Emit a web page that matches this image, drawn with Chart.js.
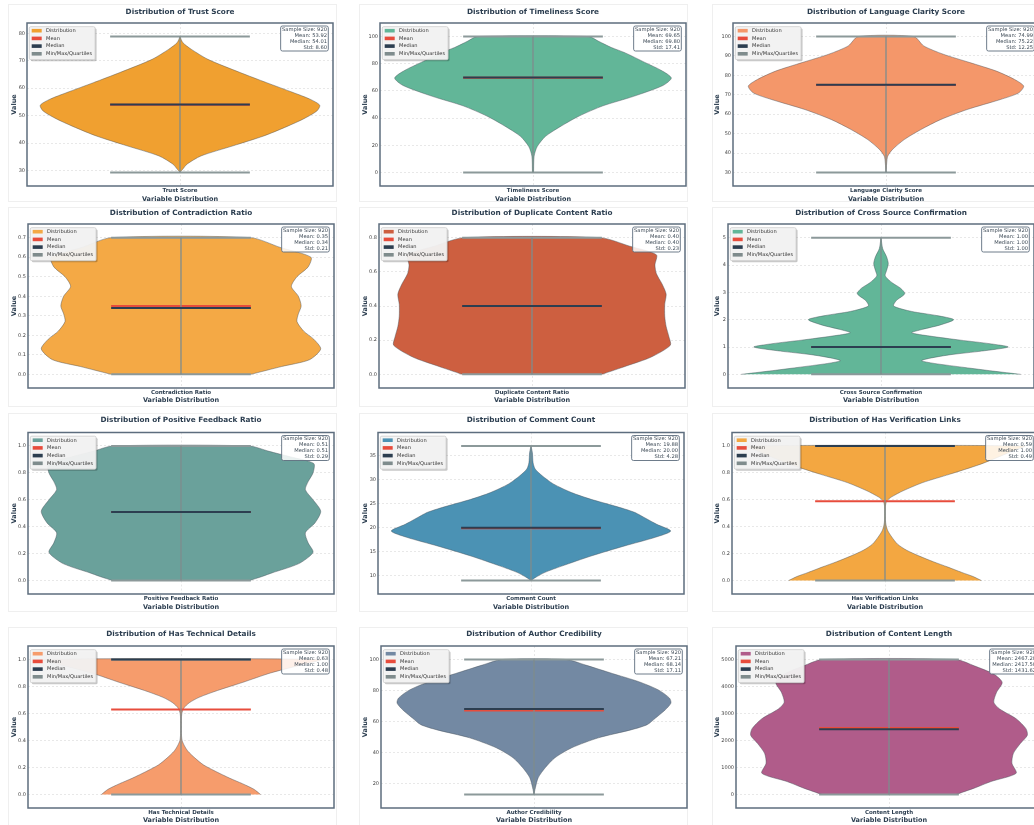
<!DOCTYPE html>
<html>
<head>
<meta charset="utf-8">
<title>Variable Distributions</title>
<script src="https://cdn.jsdelivr.net/npm/chart.js@4.4.1/dist/chart.umd.min.js"></script>
<style>
  html, body { margin: 0; padding: 0; background: #fff; overflow: hidden; }
  body { width: 1034px; height: 825px; position: relative; }
  .panel { position: absolute; border: 1px solid #efefef; box-sizing: border-box; }
  canvas { position: absolute; }
</style>
</head>
<body>
<script>
// ---- values ----
const variables = ['Trust Score', 'Timeliness Score', 'Language Clarity Score',
  'Contradiction Ratio', 'Duplicate Content Ratio', 'Cross Source Confirmation',
  'Positive Feedback Ratio', 'Comment Count', 'Has Verification Links',
  'Has Technical Details', 'Author Credibility', 'Content Length'];
const sampleSizes = [920, 920, 920, 920, 920, 920, 920, 920, 920, 920, 920, 920];
const means = [53.92, 69.65, 74.99, 0.35, 0.40, 1.00, 0.51, 19.88, 0.59, 0.63, 67.21, 2467.20];
const medians = [54.01, 69.80, 75.22, 0.34, 0.40, 1.00, 0.51, 20.00, 1.00, 1.00, 68.14, 2417.50];
const stds = [8.60, 17.41, 12.25, 0.21, 0.23, 1.00, 0.29, 4.28, 0.49, 0.48, 17.11, 1431.62];
const minValues = [29.3, 0, 30, 0, 0, 0, 0, 9, 0, 0, 13, 10];
const maxValues = [78.8, 100, 100, 0.7, 0.8, 5, 1, 37, 1, 1, 100, 4990];

// y tick labels per panel
const trustTicks = [30, 40, 50, 60, 70, 80];
const timelinessTicks = [0, 20, 40, 60, 80, 100];
const clarityTicks = [30, 40, 50, 60, 70, 80, 90, 100];
const contradictionTicks = [0, 0.1, 0.2, 0.3, 0.4, 0.5, 0.6, 0.7];
const duplicateTicks = [0, 0.2, 0.4, 0.6, 0.8];
const crossTicks = [0, 1, 2, 3, 4, 5];
const feedbackTicks = [0, 0.2, 0.4, 0.6, 0.8, 1.0];
const commentTicks = [10, 15, 20, 25, 30, 35];
const verificationTicks = [0, 0.2, 0.4, 0.6, 0.8, 1.0];
const technicalTicks = [0, 0.2, 0.4, 0.6, 0.8, 1.0];
const credibilityTicks = [20, 40, 60, 80, 100];
const lengthTicks = [0, 1000, 2000, 3000, 4000, 5000];
const tickDecimals = [0, 0, 0, 1, 1, 0, 1, 0, 1, 1, 0, 0];

// violin outlines: value levels and half widths (1 = widest point)
const trustLevels = [29.3, 30.5, 32.3, 35.3, 39, 42.6, 45.7, 48.7, 51.7, 53.8, 56, 58.4, 62, 65.7, 70.5, 74.2, 76.6, 78.8];
const trustWidths = [0, 0.02, 0.05, 0.15, 0.38, 0.6, 0.75, 0.88, 0.98, 1.0, 0.93, 0.81, 0.62, 0.43, 0.2, 0.08, 0.02, 0];
const timelinessLevels = [0, 12, 19, 26.6, 34, 41.5, 49, 56, 64, 69.5, 75, 81, 88, 92, 96.5, 100];
const timelinessWidths = [0.004, 0.008, 0.03, 0.09, 0.2, 0.33, 0.5, 0.72, 0.93, 0.99, 0.92, 0.8, 0.66, 0.56, 0.47, 0.40];
const clarityLevels = [30, 34.8, 38.3, 41.7, 46.9, 52.1, 57.2, 62.4, 67.6, 71, 74.5, 77.9, 82.2, 86.6, 90.9, 95.2, 100];
const clarityWidths = [0, 0.005, 0.012, 0.045, 0.13, 0.25, 0.39, 0.58, 0.82, 0.95, 0.985, 0.92, 0.79, 0.6, 0.41, 0.27, 0.2];
const contradictionLevels = [0, 0.04, 0.075, 0.13, 0.18, 0.22, 0.27, 0.31, 0.35, 0.4, 0.45, 0.5, 0.55, 0.6, 0.65, 0.7];
const contradictionWidths = [0.5, 0.72, 0.92, 1.0, 0.95, 0.88, 0.83, 0.84, 0.86, 0.84, 0.79, 0.83, 0.91, 0.93, 0.71, 0.5];
const duplicateLevels = [0, 0.05, 0.1, 0.17, 0.22, 0.28, 0.34, 0.41, 0.47, 0.53, 0.59, 0.64, 0.7, 0.75, 0.8];
const duplicateWidths = [0.5, 0.68, 0.85, 0.99, 0.98, 0.96, 0.95, 0.95, 0.96, 0.93, 0.89, 0.88, 0.89, 0.7, 0.49];
const crossLevels = [0, 0.12, 0.25, 0.4, 0.5, 0.6, 0.72, 0.85, 1.0, 1.12, 1.25, 1.4, 1.52, 1.65, 1.8, 2.0, 2.15, 2.3, 2.5, 2.7, 2.95, 3.15, 3.35, 3.6, 3.8, 4.05, 4.3, 4.6, 5.0];
const crossWidths = [1.0, 0.8, 0.6, 0.38, 0.29, 0.36, 0.5, 0.72, 0.91, 0.78, 0.57, 0.35, 0.22, 0.3, 0.42, 0.52, 0.4, 0.22, 0.09, 0.11, 0.17, 0.14, 0.08, 0.03, 0.04, 0.052, 0.04, 0.012, 0];
const feedbackLevels = [0, 0.03, 0.06, 0.1, 0.135, 0.21, 0.28, 0.355, 0.43, 0.515, 0.6, 0.675, 0.735, 0.8, 0.87, 0.92, 0.96, 1.0];
const feedbackWidths = [0.49, 0.58, 0.66, 0.78, 0.86, 0.945, 0.91, 0.89, 0.96, 1.0, 0.945, 0.89, 0.91, 0.945, 0.95, 0.78, 0.63, 0.49];
const commentLevels = [9, 9.6, 10.7, 12, 14.1, 16.2, 18, 19.3, 20.7, 21.8, 23.2, 24.5, 25.9, 27.3, 29.1, 30.8, 32.2, 33.5, 35.6, 37];
const commentWidths = [0, 0.03, 0.1, 0.22, 0.43, 0.67, 0.89, 1.0, 0.9, 0.83, 0.74, 0.6, 0.43, 0.29, 0.16, 0.08, 0.03, 0.015, 0.01, 0];
const verificationLevels = [0, 0.03, 0.06, 0.1, 0.14, 0.18, 0.225, 0.27, 0.324, 0.37, 0.41, 0.45, 0.55, 0.59, 0.62, 0.667, 0.728, 0.789, 0.863, 0.93, 0.97, 1.0];
const verificationWidths = [0.69, 0.63, 0.55, 0.45, 0.345, 0.25, 0.155, 0.09, 0.048, 0.02, 0.008, 0.003, 0.003, 0.012, 0.045, 0.13, 0.27, 0.46, 0.68, 0.84, 0.93, 1.0];
const technicalLevels = [0, 0.04, 0.08, 0.12, 0.17, 0.22, 0.27, 0.32, 0.36, 0.4, 0.45, 0.55, 0.6, 0.64, 0.68, 0.72, 0.77, 0.83, 0.9, 0.96, 1.0];
const technicalWidths = [0.57, 0.52, 0.44, 0.35, 0.25, 0.16, 0.1, 0.05, 0.025, 0.008, 0.003, 0.003, 0.006, 0.02, 0.06, 0.13, 0.26, 0.44, 0.64, 0.86, 1.0];
const credibilityLevels = [13, 17.4, 23.8, 30.2, 36.7, 43.1, 49.5, 54.8, 58, 62.3, 67.6, 71.9, 75.1, 80.4, 85.7, 91, 96.4, 100];
const credibilityWidths = [0, 0.01, 0.03, 0.08, 0.15, 0.27, 0.46, 0.7, 0.81, 0.87, 0.94, 0.98, 0.97, 0.89, 0.75, 0.56, 0.37, 0.23];
const lengthLevels = [10, 244, 488, 793, 1159, 1524, 1890, 2195, 2439, 2805, 3171, 3415, 3780, 4146, 4451, 4756, 4990];
const lengthWidths = [0.48, 0.61, 0.73, 0.91, 0.88, 0.89, 0.94, 0.99, 0.98, 0.91, 0.79, 0.75, 0.77, 0.81, 0.75, 0.61, 0.48];

const violinColors = ['#F0A030', '#62B698', '#F4976A', '#F4A945', '#CD5F40', '#62B698',
  '#6AA19B', '#4B92B4', '#F3A741', '#F69C6C', '#7389A3', '#B05C8A'];

(function () {
  const allLevels = [trustLevels, timelinessLevels, clarityLevels, contradictionLevels, duplicateLevels, crossLevels,
    feedbackLevels, commentLevels, verificationLevels, technicalLevels, credibilityLevels, lengthLevels];
  const allWidths = [trustWidths, timelinessWidths, clarityWidths, contradictionWidths, duplicateWidths, crossWidths,
    feedbackWidths, commentWidths, verificationWidths, technicalWidths, credibilityWidths, lengthWidths];
  const allTicks = [trustTicks, timelinessTicks, clarityTicks, contradictionTicks, duplicateTicks, crossTicks,
    feedbackTicks, commentTicks, verificationTicks, technicalTicks, credibilityTicks, lengthTicks];

  const FONT = 'DejaVu Sans';
  const meanColor = '#e74c3c';
  const medianColor = '#2c3e50';
  const extremaColor = '#7f8c8d';
  const legendLabels = ['Distribution', 'Mean', 'Median', 'Min/Max/Quartiles'];
  const xHalf = 1.095;    // x range, in violin half widths
  const lineHalf = 0.5;   // half length of mean / median / extrema lines

  // page layout (pixels)
  const rows = [
    { y: 0, h: 205, top: 23, bottom: 186, titleY: 12, tickY: 191, labelY: 199 },
    { y: 205, h: 205, top: 224, bottom: 388, titleY: 212.7, tickY: 392.3, labelY: 400 },
    { y: 410, h: 205, top: 432.5, bottom: 594, titleY: 420.5, tickY: 599, labelY: 607.3 },
    { y: 615, h: 210, top: 646, bottom: 808, titleY: 634, tickY: 813, labelY: 820.7 }
  ];
  const cols = [
    { x: 0, w: 345, valueX: 14 },
    { x: 345, w: 345, valueX: 365 },
    { x: 690, w: 360, valueX: 717.5 }
  ];
  const plotLefts = [27, 380, 733, 28, 379, 728, 28, 378, 732, 28, 381, 736];
  const plotWidth = 306;
  const panelXs = [[8, 337], [359, 688], [712, 1040]];
  const panelYs = [[4, 202], [207, 407], [413, 612], [627, 830]];

  const TITLE_SIZE = 7.3, AXIS_TITLE_SIZE = 6.5, CAT_SIZE = 5.5, TICK_SIZE = 5, LEGEND_SIZE = 5.1, STATS_SIZE = 5.2;

  // faint frames round each panel
  panelYs.forEach(function (py) {
    panelXs.forEach(function (px) {
      const d = document.createElement('div');
      d.className = 'panel';
      d.style.left = px[0] + 'px';
      d.style.top = py[0] + 'px';
      d.style.width = (px[1] - px[0]) + 'px';
      d.style.height = (py[1] - py[0]) + 'px';
      document.body.appendChild(d);
    });
  });

  function roundRect(ctx, x, y, w, h, r) {
    ctx.beginPath();
    ctx.moveTo(x + r, y);
    ctx.lineTo(x + w - r, y);
    ctx.arcTo(x + w, y, x + w, y + r, r);
    ctx.lineTo(x + w, y + h - r);
    ctx.arcTo(x + w, y + h, x + w - r, y + h, r);
    ctx.lineTo(x + r, y + h);
    ctx.arcTo(x, y + h, x, y + h - r, r);
    ctx.lineTo(x, y + r);
    ctx.arcTo(x, y, x + r, y, r);
    ctx.closePath();
  }

  function hLine(v, color, width) {
    return {
      data: [{ x: -lineHalf, y: v }, { x: lineHalf, y: v }],
      borderColor: color, borderWidth: width, pointRadius: 0, fill: false, tension: 0
    };
  }

  function drawPanel(i) {
    const row = rows[Math.floor(i / 3)];
    const col = cols[i % 3];
    const left = plotLefts[i];
    const right = left + plotWidth;
    const span = maxValues[i] - minValues[i];
    const yMin = minValues[i] - 0.1 * span;
    const yMax = maxValues[i] + 0.1 * span;
    const name = variables[i];

    const canvas = document.createElement('canvas');
    canvas.width = col.w;
    canvas.height = row.h;
    canvas.style.left = col.x + 'px';
    canvas.style.top = row.y + 'px';
    canvas.style.width = col.w + 'px';
    canvas.style.height = row.h + 'px';
    document.body.appendChild(canvas);

    const titleLh = TITLE_SIZE * 1.2;
    const titlePadTop = row.titleY - row.y - titleLh / 2;
    const titlePadBottom = row.top - row.y - titlePadTop - titleLh;
    const catPad = row.tickY - row.bottom - CAT_SIZE * 1.2 / 2;
    const xTitlePad = row.y + row.h - row.labelY - AXIS_TITLE_SIZE * 1.2 / 2;
    const yTitlePad = col.valueX - col.x - AXIS_TITLE_SIZE * 1.2 / 2;

    // violin outline: right side going up, left side coming down
    const lv = allLevels[i], wd = allWidths[i];
    const outline = [];
    for (let k = 0; k < lv.length; k++) outline.push({ x: wd[k], y: lv[k] });
    for (let k = lv.length - 1; k >= 0; k--) outline.push({ x: -wd[k], y: lv[k] });

    const datasets = [
      hLine(medians[i], medianColor, 2),
      {
        data: [{ x: 0, y: minValues[i] }, { x: 0, y: maxValues[i] }],
        borderColor: extremaColor, borderWidth: 1.3, pointRadius: 0, fill: false, tension: 0
      },
      hLine(minValues[i], '#8c999a', 2),
      hLine(maxValues[i], '#8c999a', 2),
      hLine(means[i], meanColor, 2),
      {
        data: outline,
        backgroundColor: violinColors[i],
        borderColor: 'rgba(70,78,88,0.55)',
        borderWidth: 0.8,
        pointRadius: 0,
        fill: 'shape',
        tension: 0.25
      }
    ];

    const statLines = ['Sample Size: ' + sampleSizes[i], 'Mean: ' + means[i].toFixed(2),
      'Median: ' + medians[i].toFixed(2), 'Std: ' + stds[i].toFixed(2)];

    const decor = {
      id: 'decor',
      afterDatasetsDraw: function (chart) {
        const ctx = chart.ctx, a = chart.chartArea;
        ctx.save();
        // axes frame
        ctx.strokeStyle = '#5d6d7e';
        ctx.lineWidth = 1.5;
        ctx.strokeRect(a.left, a.top, a.right - a.left, a.bottom - a.top);

        // legend, upper left
        ctx.font = LEGEND_SIZE + 'px "' + FONT + '"';
        const textX = a.left + 19;
        let tw = 0;
        legendLabels.forEach(function (t) { tw = Math.max(tw, ctx.measureText(t).width); });
        const lx = a.left + 2.3, ly = a.top + 3.7, lw = textX + tw + 3 - lx, lh = 33;
        ctx.fillStyle = 'rgba(0,0,0,0.22)';
        roundRect(ctx, lx + 1.5, ly + 1.5, lw, lh, 1.5);
        ctx.fill();
        ctx.fillStyle = 'rgba(244,244,244,0.95)';
        roundRect(ctx, lx, ly, lw, lh, 1.5);
        ctx.fill();
        ctx.strokeStyle = '#cccccc';
        ctx.lineWidth = 0.8;
        ctx.stroke();
        const swatches = [violinColors[i], meanColor, medianColor, extremaColor];
        ctx.textBaseline = 'middle';
        ctx.textAlign = 'left';
        legendLabels.forEach(function (t, j) {
          const y = a.top + 7.7 + 7.7 * j;
          ctx.fillStyle = swatches[j];
          ctx.fillRect(a.left + 4.7, y - 1.8, 10, 3.6);
          ctx.fillStyle = '#333333';
          ctx.fillText(t, textX, y);
        });

        // summary box, upper right
        ctx.font = STATS_SIZE + 'px "' + FONT + '"';
        let sw = 0;
        statLines.forEach(function (t) { sw = Math.max(sw, ctx.measureText(t).width); });
        const bw = sw + 2.6, bh = 25, bx = a.right - 4.7 - bw, by = a.top + 3;
        ctx.fillStyle = 'rgba(255,255,255,0.85)';
        roundRect(ctx, bx, by, bw, bh, 1.8);
        ctx.fill();
        ctx.strokeStyle = '#5d6d7e';
        ctx.lineWidth = 0.9;
        ctx.stroke();
        ctx.fillStyle = '#3d4a56';
        ctx.textAlign = 'right';
        statLines.forEach(function (t, j) {
          ctx.fillText(t, bx + bw - 1.3, by + 3.6 + 5.9 * j);
        });
        ctx.restore();
      }
    };

    new Chart(canvas, {
      type: 'line',
      data: { datasets: datasets },
      options: {
        responsive: false,
        animation: false,
        devicePixelRatio: 1,
        layout: { padding: { left: 0, top: 0, bottom: 0, right: col.x + col.w - right } },
        plugins: {
          legend: { display: false },
          tooltip: { enabled: false },
          title: {
            display: true,
            text: 'Distribution of ' + name,
            fullSize: false,
            color: '#2c3e50',
            font: { family: FONT, size: TITLE_SIZE, weight: 'bold', lineHeight: 1.2 },
            padding: { top: titlePadTop, bottom: titlePadBottom }
          }
        },
        scales: {
          x: {
            type: 'linear',
            min: -xHalf,
            max: xHalf,
            afterFit: function (s) { s.height = row.y + row.h - row.bottom; },
            afterBuildTicks: function (s) { s.ticks = [{ value: 0 }]; },
            ticks: {
              callback: function () { return name; },
              color: '#2c3e50',
              font: { family: FONT, size: CAT_SIZE, weight: 'bold', lineHeight: 1.2 },
              padding: catPad,
              maxRotation: 0,
              autoSkip: false
            },
            grid: { color: 'rgba(0,0,0,0.13)', lineWidth: 0.7, drawTicks: false },
            border: { display: false, dash: [2, 2] },
            title: {
              display: true,
              text: 'Variable Distribution',
              color: '#2c3e50',
              font: { family: FONT, size: AXIS_TITLE_SIZE, weight: 'bold', lineHeight: 1.2 },
              padding: { top: 0, bottom: xTitlePad }
            }
          },
          y: {
            type: 'linear',
            min: yMin,
            max: yMax,
            afterFit: function (s) { s.width = left - col.x; },
            afterBuildTicks: function (s) {
              s.ticks = allTicks[i].map(function (v) { return { value: v }; });
            },
            ticks: {
              callback: function (v) { return Number(v).toFixed(tickDecimals[i]); },
              color: '#444444',
              font: { family: FONT, size: TICK_SIZE, lineHeight: 1.2 },
              padding: 2
            },
            grid: { color: 'rgba(0,0,0,0.13)', lineWidth: 0.7, drawTicks: false },
            border: { display: false, dash: [2, 2] },
            title: {
              display: true,
              text: 'Value',
              color: '#2c3e50',
              font: { family: FONT, size: AXIS_TITLE_SIZE, weight: 'bold', lineHeight: 1.2 },
              padding: { top: yTitlePad, bottom: 0 }
            }
          }
        }
      },
      plugins: [decor]
    });
  }

  variables.forEach(function (name, i) { drawPanel(i); });
})();
</script>
</body>
</html>
